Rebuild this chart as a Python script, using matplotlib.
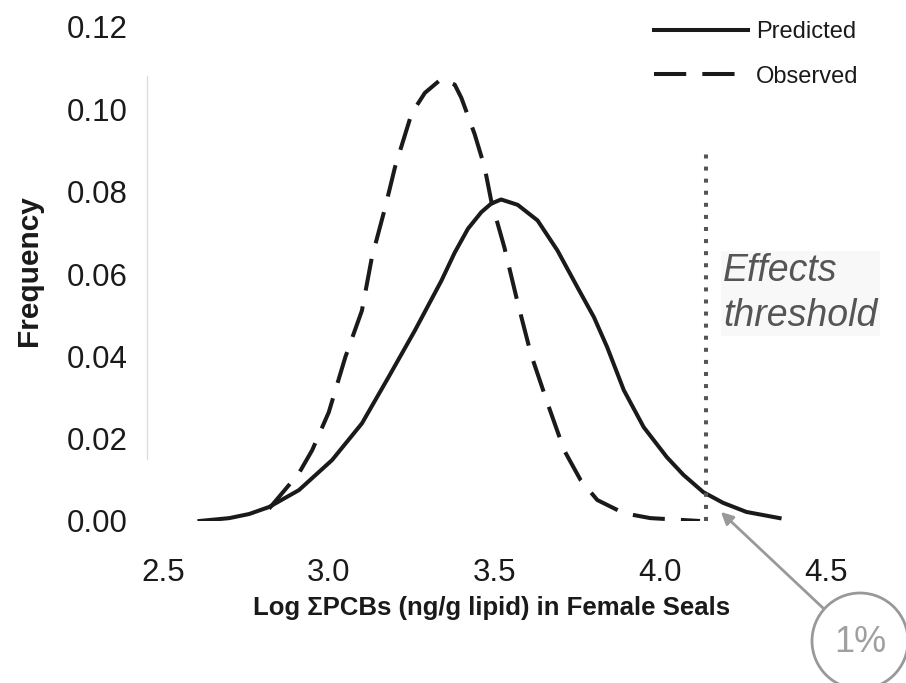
import matplotlib
matplotlib.use('Agg')
import matplotlib.pyplot as plt
from matplotlib.patches import Ellipse

plt.rcParams['font.family'] = ['Liberation Sans', 'DejaVu Sans']

# Predicted distribution (solid line)
pred_x = [2.61, 2.70, 2.76, 2.82, 2.91, 3.01, 3.10, 3.18, 3.26, 3.34, 3.38, 3.42,
          3.46, 3.49, 3.52, 3.57, 3.63, 3.69, 3.75, 3.80, 3.84, 3.89, 3.95, 4.02,
          4.07, 4.13, 4.19, 4.26, 4.36]
pred_y = [0.0, 0.0007, 0.0017, 0.0034, 0.0075, 0.0148, 0.0237, 0.0349, 0.0463,
          0.0584, 0.0652, 0.0710, 0.0750, 0.0771, 0.0781, 0.0768, 0.0730, 0.0657,
          0.0568, 0.0495, 0.0422, 0.0318, 0.0228, 0.0155, 0.0112, 0.0070, 0.0044,
          0.0022, 0.0007]

# Observed distribution (dashed line)
obs_x = [2.82, 2.91, 2.95, 3.00, 3.05, 3.10, 3.13, 3.17, 3.20, 3.25, 3.29, 3.34,
         3.38, 3.40, 3.44, 3.47, 3.49, 3.53, 3.57, 3.61, 3.66, 3.71, 3.76, 3.81,
         3.89, 3.97, 4.12]
obs_y = [0.003, 0.0116, 0.0172, 0.0264, 0.0398, 0.0511, 0.064, 0.0761, 0.086, 0.099,
         0.104, 0.1074, 0.106, 0.1028, 0.094, 0.086, 0.0778, 0.0664, 0.053, 0.0405,
         0.0286, 0.0172, 0.0099, 0.0051, 0.0019, 0.0007, 0.0]

threshold_x = 4.137
threshold_top = 0.090
x_ticks = [2.5, 3.0, 3.5, 4.0, 4.5]
y_ticks = [0.00, 0.02, 0.04, 0.06, 0.08, 0.10, 0.12]

fig = plt.figure(figsize=(9.06, 6.83), dpi=100)
ax = fig.add_axes([163 / 906, 162 / 683, 663 / 906, 494 / 683])

ax.plot(pred_x, pred_y, color='#1a1a1a', lw=2.9, label='Predicted')
ax.plot(obs_x, obs_y, color='#1a1a1a', lw=2.9, linestyle=(0, (8, 4)), label='Observed')
ax.plot([threshold_x, threshold_x], [0, threshold_top], color='#555555', lw=2.9,
        linestyle=(0, (1, 2)))

ax.set_xlim(2.5, 4.5)
ax.set_ylim(0, 0.12)
ax.set_xticks(x_ticks)
ax.set_xticklabels([f'{v:.1f}' for v in x_ticks])
ax.set_yticks(y_ticks)
ax.set_yticklabels([f'{v:.2f}' for v in y_ticks])
ax.tick_params(axis='both', length=0, labelsize=22.5, colors='#1a1a1a')
ax.tick_params(axis='x', pad=26.5)
ax.tick_params(axis='y', pad=13.7)

for s in ['top', 'right', 'bottom']:
    ax.spines[s].set_visible(False)
ax.spines['left'].set_position(('outward', 11.5))
ax.spines['left'].set_bounds(0.015, 0.108)
ax.spines['left'].set_color('#dddddd')
ax.spines['left'].set_linewidth(1)

ax.set_xlabel('Log ΣPCBs (ng/g lipid) in Female Seals', fontsize=18.5,
              fontweight='bold', color='#1a1a1a')
ax.xaxis.set_label_coords(0.495, -0.152)
ax.set_ylabel('Frequency', fontsize=21.5, fontweight='bold', color='#1a1a1a')
ax.yaxis.set_label_coords(-0.181, 0.506)

ax.text(4.19, 0.0553, 'Effects\nthreshold', fontsize=27, style='italic', color='#555555',
        linespacing=1.3, va='center', ha='left',
        bbox=dict(facecolor='#f8f8f8', edgecolor='none', pad=2))

leg = ax.legend(loc='upper right', bbox_to_anchor=(880 / 906, 1.0),
                bbox_transform=fig.transFigure, frameon=False, fontsize=17,
                handlelength=4.0, handletextpad=0.35, labelspacing=0.95)
for t in leg.get_texts():
    t.set_color('#1a1a1a')

# 1% callout
circ = Ellipse((860 / 906, 1 - 641 / 683), 96 / 906, 96 / 683, transform=fig.transFigure,
               facecolor='white', edgecolor='#999999', lw=2)
fig.add_artist(circ)
fig.text(860 / 906, 1 - 643 / 683, '1%', fontsize=26, color='#a0a0a0',
         ha='center', va='center')
ax.annotate('', xy=(4.183, 0.0022), xytext=(823, 683 - 608), textcoords='figure pixels',
            arrowprops=dict(arrowstyle='-|>', color='#999999', lw=2,
                            mutation_scale=18, shrinkA=0, shrinkB=0))

fig.savefig('out.png', dpi=100)
